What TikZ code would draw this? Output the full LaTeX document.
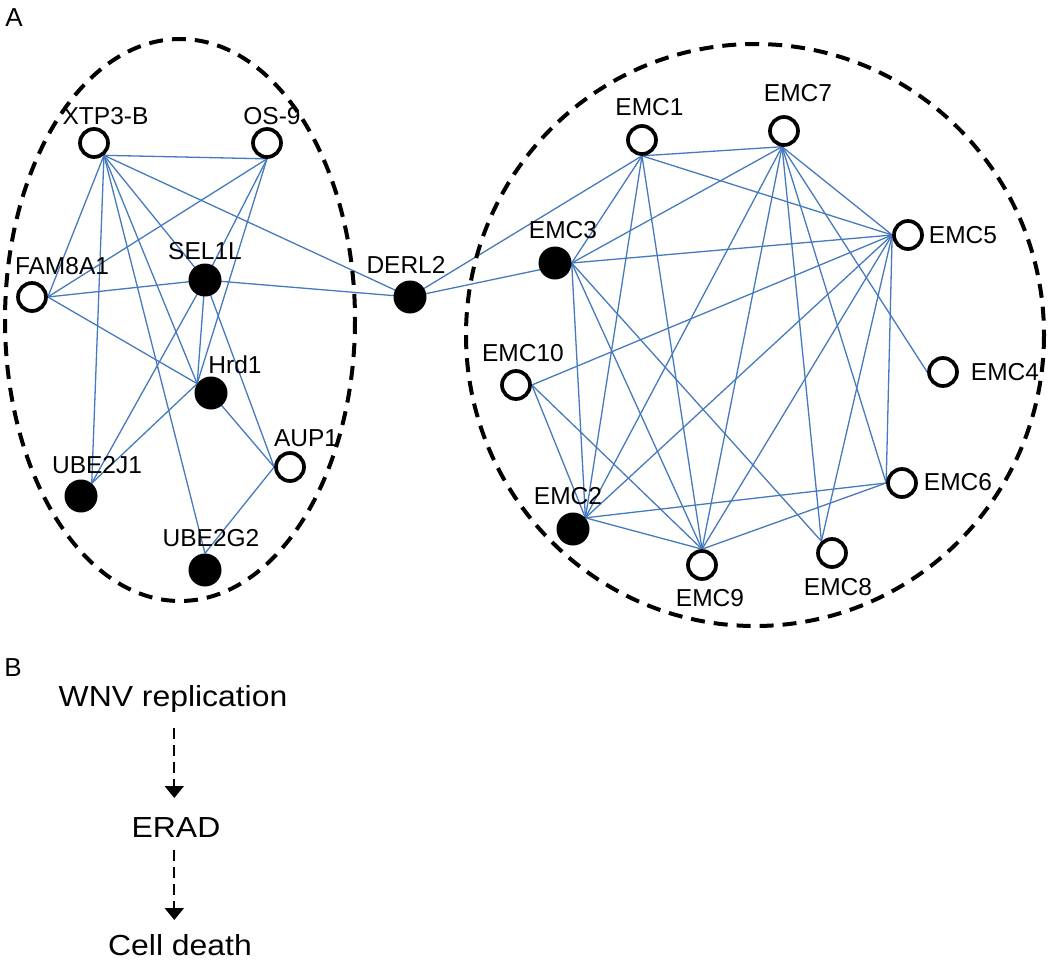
\documentclass[tikz,border=0pt]{standalone}
\usepackage{fontspec}
\setmainfont{Liberation Sans}
\usetikzlibrary{arrows.meta,backgrounds}
\definecolor{edgeblue}{RGB}{70,122,190}
\begin{document}
\begin{tikzpicture}[x=1pt,y=-1pt,
  opennode/.style={circle,draw=black,line width=3.7pt,fill=white,minimum size=28pt,inner sep=0pt},
  fillnode/.style={circle,fill=black,minimum size=33pt,inner sep=0pt},
  lbl/.style={font=\fontsize{24.5}{28}\selectfont,inner sep=0pt},
  lblB/.style={font=\fontsize{29}{33}\selectfont,inner sep=0pt,anchor=base},
  panel/.style={font=\fontsize{26}{30}\selectfont,inner sep=0pt},
  link/.style={draw=edgeblue,line width=1.3pt},
  cluster/.style={draw=black,line width=4pt,dash pattern=on 14pt off 9pt},
  flow/.style={draw=black,line width=2pt,dash pattern=on 11pt off 6pt,-{Triangle[length=12pt,width=19pt]}}]
\useasboundingbox (0,0) rectangle (1050,961);

% panel letters
\node[panel] (pA) at (14,18) {A};
\node[panel] (pB) at (13,668) {B};

% clusters
\draw[cluster] (180,320) ellipse [x radius=175, y radius=281];
\draw[cluster] (755,335) ellipse [x radius=289, y radius=291];

% left nodes
\node[opennode] (XTP) at (94,143) {};
\node[opennode] (OS9) at (267,143) {};
\node[opennode] (FAM) at (32,297) {};
\node[fillnode] (SEL) at (205,280) {};
\node[fillnode] (HRD) at (211,393) {};
\node[opennode] (AUP) at (290,467) {};
\node[fillnode] (UBJ) at (81,496) {};
\node[fillnode] (UBG) at (205,570) {};
\node[fillnode] (DER) at (410,297) {};
% right nodes
\node[opennode] (E1) at (642,140) {};
\node[opennode] (E7) at (784,131) {};
\node[opennode] (E5) at (908,235) {};
\node[fillnode] (E3) at (555,263) {};
\node[opennode] (E10) at (516,385) {};
\node[opennode] (E4) at (943,372) {};
\node[opennode] (E6) at (902,483) {};
\node[fillnode] (E2) at (573,529) {};
\node[opennode] (E9) at (702,565) {};
\node[opennode] (E8) at (832,553) {};

% edge anchor points
\coordinate (XTPp) at (XTP.-51);
\coordinate (OS9p) at (OS9.-90);
\coordinate (FAMp) at (FAM.0);
\coordinate (SELp) at (SEL.center);
\coordinate (HRDp) at (HRD.146);
\coordinate (AUPp) at (AUP.180);
\coordinate (UBJp) at (UBJ.50);
\coordinate (UBGp) at (UBG.90);
\coordinate (DERp) at (DER.center);
\coordinate (E1p) at (E1.-90);
\coordinate (E7p) at (E7.-97);
\coordinate (E5p) at (E5.180);
\coordinate (E3p) at (E3.0);
\coordinate (E10p) at (E10.0);
\coordinate (E4p) at (E4.180);
\coordinate (E6p) at (E6.180);
\coordinate (E2p) at (E2.42);
\coordinate (E9p) at (E9.90);
\coordinate (E8p) at (E8.132);

\begin{scope}[on background layer]
  % left cluster
  \draw[link] (XTPp) -- (OS9p);
  \draw[link] (XTPp) -- (FAMp);
  \draw[link] (XTPp) -- (UBJp);
  \draw[link] (XTPp) -- (SELp);
  \draw[link] (XTPp) -- (HRDp);
  \draw[link] (XTPp) -- (UBGp);
  \draw[link] (XTPp) -- (DERp);
  \draw[link] (OS9p) -- (FAMp);
  \draw[link] (OS9p) -- (SELp);
  \draw[link] (OS9p) -- (HRDp);
  \draw[link] (FAMp) -- (SELp);
  \draw[link] (FAMp) -- (HRDp);
  \draw[link] (SELp) -- (DERp);
  \draw[link] (SELp) -- (HRDp);
  \draw[link] (SELp) -- (UBJp);
  \draw[link] (SELp) -- (AUPp);
  \draw[link] (HRDp) -- (UBJp);
  \draw[link] (HRD.center) -- (AUPp);
  \draw[link] (AUPp) -- (UBGp);
  % right cluster
  \draw[link] (DERp) -- (E1p);
  \draw[link] (DERp) -- (E3p);
  \draw[link] (E1p) -- (E3p);
  \draw[link] (E1p) -- (E7p);
  \draw[link] (E1p) -- (E5p);
  \draw[link] (E1p) -- (E2p);
  \draw[link] (E1p) -- (E9p);
  \draw[link] (E7p) -- (E3p);
  \draw[link] (E7p) -- (E2p);
  \draw[link] (E7p) -- (E9p);
  \draw[link] (E7p) -- (E8p);
  \draw[link] (E7p) -- (E6p);
  \draw[link] (E7p) -- (E4p);
  \draw[link] (E7p) -- (E5p);
  \draw[link] (E5p) -- (E3p);
  \draw[link] (E5p) -- (E10p);
  \draw[link] (E5p) -- (E2p);
  \draw[link] (E5p) -- (E9p);
  \draw[link] (E5p) -- (E8p);
  \draw[link] (E5p) -- (E6p);
  \draw[link] (E3p) -- (E2p);
  \draw[link] (E3p) -- (E9p);
  \draw[link] (E3p) -- (E8p);
  \draw[link] (E10p) -- (E2p);
  \draw[link] (E10p) -- (E9p);
  \draw[link] (E2p) -- (E6p);
  \draw[link] (E2p) -- (E9p);
  \draw[link] (E9p) -- (E6p);
\end{scope}

% labels
\node[lbl] (XTPl) at (105.5,116) {XTP3-B};
\node[lbl] (OS9l) at (272,116) {OS-9};
\node[lbl] (FAMl) at (62,266) {FAM8A1};
\node[lbl] (SELl) at (205,251) {SEL1L};
\node[lbl] (HRDl) at (235,365) {Hrd1};
\node[lbl] (AUPl) at (306,438) {AUP1};
\node[lbl] (UBJl) at (97,465) {UBE2J1};
\node[lbl] (UBGl) at (211,538) {UBE2G2};
\node[lbl] (DERl) at (406,265) {DERL2};
\node[lbl] (E1l) at (649.5,107) {EMC1};
\node[lbl] (E7l) at (798,93) {EMC7};
\node[lbl] (E5l) at (963,235) {EMC5};
\node[lbl] (E3l) at (563,230) {EMC3};
\node[lbl] (E10l) at (523,353) {EMC10};
\node[lbl] (E4l) at (1005,372) {EMC4};
\node[lbl] (E6l) at (958,482) {EMC6};
\node[lbl] (E2l) at (568,496) {EMC2};
\node[lbl] (E9l) at (710,598) {EMC9};
\node[lbl] (E8l) at (838,587) {EMC8};

% panel B
\node[lblB] (wnv) at (173,706.5) {\scalebox{1.1}[1]{WNV replication}};
\node[lblB] (erad) at (176,837) {\scalebox{1.1}[1]{ERAD}};
\node[lblB] (death) at (180,955.5) {\scalebox{1.1}[1]{Cell death}};
\coordinate (a1s) at (174.3,728);
\coordinate (a1e) at (174.3,798);
\coordinate (a2s) at (174.3,850);
\coordinate (a2e) at (174.3,920);
\draw[flow] (a1s) -- (a1e);
\draw[flow] (a2s) -- (a2e);
\end{tikzpicture}
\end{document}
